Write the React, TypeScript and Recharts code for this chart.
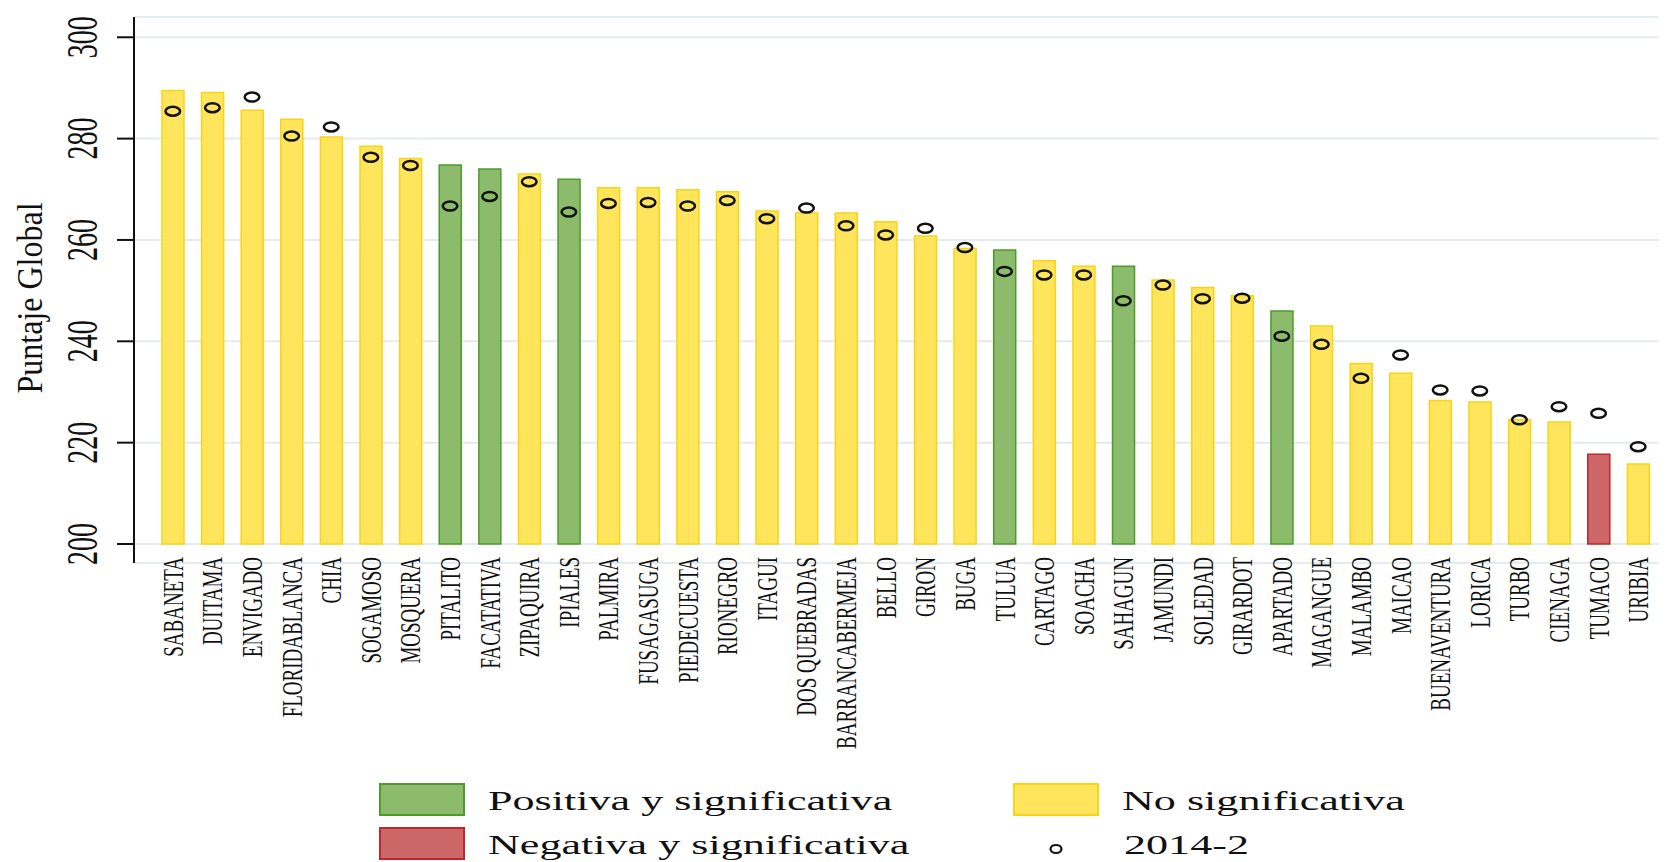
import React from "react";
import {
  ComposedChart,
  Bar,
  Cell,
  Line,
  XAxis,
  YAxis,
  CartesianGrid,
} from "recharts";

const municipios = [
  "SABANETA", "DUITAMA", "ENVIGADO", "FLORIDABLANCA", "CHIA", "SOGAMOSO",
  "MOSQUERA", "PITALITO", "FACATATIVA", "ZIPAQUIRA", "IPIALES", "PALMIRA",
  "FUSAGASUGA", "PIEDECUESTA", "RIONEGRO", "ITAGUI", "DOS QUEBRADAS",
  "BARRANCABERMEJA", "BELLO", "GIRON", "BUGA", "TULUA", "CARTAGO", "SOACHA",
  "SAHAGUN", "JAMUNDI", "SOLEDAD", "GIRARDOT", "APARTADO", "MAGANGUE",
  "MALAMBO", "MAICAO", "BUENAVENTURA", "LORICA", "TURBO", "CIENAGA",
  "TUMACO", "URIBIA",
];

// puntaje actual (barras)
const puntaje = [
  289.5, 289.1, 285.6, 283.8, 280.3, 278.5, 276.1, 274.8, 274.0, 273.0,
  272.0, 270.3, 270.3, 269.9, 269.5, 265.7, 265.3, 265.3, 263.6, 260.8,
  258.3, 258.0, 255.9, 254.8, 254.8, 252.1, 250.6, 249.0, 246.0, 243.0,
  235.6, 233.7, 228.3, 228.0, 224.5, 224.1, 217.7, 215.8,
];

// 2014-2 (circulos)
const puntaje20142 = [
  285.4, 286.1, 288.2, 280.5, 282.3, 276.3, 274.7, 266.7, 268.6, 271.5,
  265.5, 267.2, 267.4, 266.7, 267.8, 264.2, 266.3, 262.8, 261.0, 262.3,
  258.5, 253.8, 253.1, 253.1, 248.0, 251.1, 248.4, 248.5, 241.0, 239.4,
  232.7, 237.3, 230.4, 230.2, 224.5, 227.1, 225.8, 219.2,
];

// P = positiva y significativa, N = negativa y significativa, X = no significativa
const cambio = [
  "X", "X", "X", "X", "X", "X", "X", "P", "P", "X", "P", "X", "X", "X",
  "X", "X", "X", "X", "X", "X", "X", "P", "X", "X", "P", "X", "X", "X",
  "P", "X", "X", "X", "X", "X", "X", "X", "N", "X",
];

const yTicks = [200, 220, 240, 260, 280, 300];

const COLORS: Record<string, { fill: string; stroke: string }> = {
  P: { fill: "#8bbb6b", stroke: "#4e9a2b" },
  N: { fill: "#cd6666", stroke: "#c0262a" },
  X: { fill: "#fee55b", stroke: "#f7d417" },
};

const legendItems = [
  { key: "P", label: "Positiva y significativa", left: 371, top: 775 },
  { key: "X", label: "No significativa", left: 1005, top: 775 },
  { key: "N", label: "Negativa y significativa", left: 371, top: 819 },
];

const data = municipios.map((m, i) => ({
  name: m,
  now: puntaje[i],
  prev: puntaje20142[i],
  cambio: cambio[i],
}));

const SERIF = "'Liberation Serif', 'Times New Roman', serif";

const XTick = ({ x, y, payload }: any) => (
  <g transform={`translate(${x + 10},${y - 6})`}>
    <text
      transform="rotate(-90) scale(1,1.6)"
      textAnchor="end"
      fontSize={19}
      fontFamily={SERIF}
      fill="#111"
    >
      {payload.value}
    </text>
  </g>
);

const YTick = ({ x, y, payload }: any) => (
  <g transform={`translate(${x - 20},${y})`}>
    <text
      transform="rotate(-90) scale(1,1.55)"
      textAnchor="middle"
      fontSize={28}
      fontFamily={SERIF}
      fill="#111"
    >
      {payload.value}
    </text>
  </g>
);

const Ring = ({ cx, cy }: any) =>
  cx == null || cy == null ? null : (
    <ellipse cx={cx} cy={cy} rx={7.3} ry={4.5} fill="none" stroke="#111" strokeWidth={2.5} />
  );

const YTitle = ({ viewBox }: any) => (
  <g transform={`translate(34,${viewBox.y + viewBox.height / 2 + 8})`}>
    <text
      transform="rotate(-90) scale(1,1.12)"
      textAnchor="middle"
      fontSize={32}
      fontFamily={SERIF}
      fill="#111"
    >
      Puntaje Global
    </text>
  </g>
);

const textStyle: React.CSSProperties = {
  position: "absolute",
  fontFamily: SERIF,
  fontSize: 28,
  lineHeight: "28px",
  whiteSpace: "nowrap",
  transform: "scaleX(1.575)",
  transformOrigin: "left top",
  color: "#111",
};

export default function App() {
  return (
    <div style={{ position: "relative", width: 1659, height: 854, overflow: "hidden" }}>
      <ComposedChart
        width={1659}
        height={854}
        data={data}
        margin={{ top: 9, right: 7, bottom: 9, left: 0 }}
      >
        <CartesianGrid vertical={false} stroke="#e4ecef" strokeWidth={2} />
        <XAxis
          dataKey="name"
          interval={0}
          height={290}
          axisLine={false}
          tickLine={false}
          tickSize={0}
          tickMargin={0}
          padding={{ left: 19, right: 2 }}
          tick={<XTick />}
        />
        <YAxis
          domain={[196.25, 304]}
          ticks={yTicks}
          width={126}
          axisLine={{ stroke: "#111", strokeWidth: 2 }}
          tickLine={{ stroke: "#111", strokeWidth: 2 }}
          tickSize={17}
          tickMargin={0}
          tick={<YTick />}
          allowDataOverflow
          label={{ content: <YTitle /> }}
        />
        <Bar
          dataKey={(d: any) => [200, d.now]}
          barSize={22}
          strokeWidth={1.5}
          isAnimationActive={false}
        >
          {data.map((d) => (
            <Cell key={d.name} fill={COLORS[d.cambio].fill} stroke={COLORS[d.cambio].stroke} />
          ))}
        </Bar>
        <Line
          dataKey="prev"
          stroke="none"
          dot={<Ring />}
          activeDot={false}
          isAnimationActive={false}
        />
      </ComposedChart>
      {legendItems.map((it) => (
        <React.Fragment key={it.key}>
          <div
            style={{
              position: "absolute",
              left: it.left,
              top: it.top,
              width: 82,
              height: 29,
              background: COLORS[it.key].fill,
              border: `2px solid ${COLORS[it.key].stroke}`,
            }}
          />
          <div style={{ ...textStyle, left: it.left + 109, top: it.top + 4 }}>{it.label}</div>
        </React.Fragment>
      ))}
      <svg
        style={{ position: "absolute", left: 1039, top: 834 }}
        width={18}
        height={14}
      >
        <ellipse cx={9} cy={7} rx={5.5} ry={4} fill="none" stroke="#111" strokeWidth={2.2} />
      </svg>
      <div style={{ ...textStyle, left: 1116, top: 823 }}>2014-2</div>
    </div>
  );
}
